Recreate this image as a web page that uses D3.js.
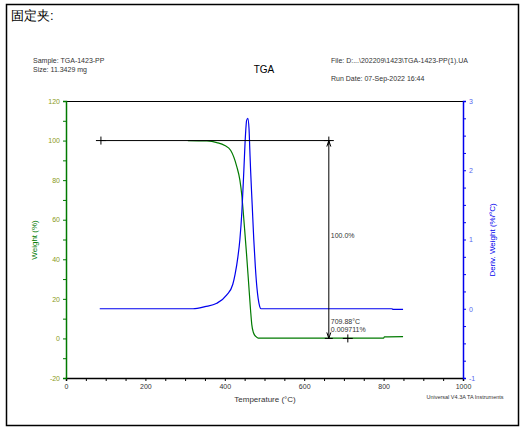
<!DOCTYPE html>
<html><head><meta charset="utf-8">
<script src="https://cdn.jsdelivr.net/npm/d3@7"></script>
<style>body{margin:0;background:#fff}text{font-family:"Liberation Sans",Arial,sans-serif}</style>
</head><body><svg id="c" width="525" height="430"></svg>
<script>
// Weight (%) vs temperature (°C)
const weightT = [307, 355, 380, 400, 415, 430, 438, 443, 446, 450, 455, 460, 465, 468, 472, 478, 484, 800, 802, 849];
const weightV = [100, 99.8, 99, 97.5, 95, 87, 80, 72, 65, 55, 42, 28, 14, 7, 3, 1, 0.2, 0.2, 0.8, 0.9];
// Deriv. weight (%/°C)
const derivT = [85, 320, 350, 380, 405, 420, 426, 433, 438, 443, 448, 452, 455, 458, 461, 463, 465, 469, 473, 477, 481, 484, 488, 491, 820, 825, 849];
const derivV = [0, 0, 0.03, 0.08, 0.2, 0.35, 0.5, 0.75, 1.0, 1.4, 2.0, 2.5, 2.72, 2.75, 2.6, 2.3, 2.0, 1.5, 1.0, 0.6, 0.3, 0.15, 0.03, 0, 0, -0.01, -0.01];
const xTicks = [0, 200, 400, 600, 800, 1000];
const yTicks = [-20, 0, 20, 40, 60, 80, 100, 120];
const y2Ticks = [-1, 0, 1, 2, 3];

const svg = d3.select('#c');
const x = d3.scaleLinear().domain([0, 1000]).range([66, 463]);
const y = d3.scaleLinear().domain([-20, 120]).range([378, 101]);
const y2 = d3.scaleLinear().domain([-1, 3]).range([378, 101]);
const green = '#007a00', blue = '#0000ee';

svg.append('rect').attr('x', 6.5).attr('y', 4.5).attr('width', 512).attr('height', 421)
  .attr('fill', 'none').attr('stroke', '#000').attr('stroke-width', 1.5);
svg.append('text').attr('x', 11).attr('y', 20).attr('font-size', 13)
  .attr('font-family', 'Noto Sans CJK SC').text('固定夹:');

const small = (t, xx, yy, anchor) => svg.append('text').attr('x', xx).attr('y', yy)
  .attr('font-size', 7).attr('fill', '#333').attr('text-anchor', anchor || 'start').text(t);
small('Sample: TGA-1423-PP', 33, 63);
small('Size:  11.3429 mg', 33, 72);
small('File: D:...\\202209\\1423\\TGA-1423-PP(1).UA', 331, 63);
small('Run Date: 07-Sep-2022 16:44', 331, 81);
svg.append('text').attr('x', 264).attr('y', 73).attr('font-size', 10).attr('text-anchor', 'middle').text('TGA');

// frame top
svg.append('line').attr('x1', 66).attr('x2', 463).attr('y1', 101.5).attr('y2', 101.5).attr('stroke', '#000');

const gx = svg.append('g').attr('transform', 'translate(0,378)')
  .call(d3.axisBottom(x).tickValues(d3.range(0, 1001, 50)).tickSize(3).tickFormat(d => xTicks.includes(d) ? d : ''));
gx.selectAll('text').attr('font-size', 7).attr('fill', '#333');

const gy = svg.append('g').attr('transform', 'translate(66,0)')
  .call(d3.axisLeft(y).tickValues(d3.range(-20, 121, 10)).tickSize(3).tickFormat(d => yTicks.includes(d) ? d.toFixed(1).replace('.0', '') : ''));
gy.selectAll('path,line').attr('stroke', green);
gy.selectAll('text').attr('font-size', 7).attr('fill', '#8a9a20');

const gy2 = svg.append('g').attr('transform', 'translate(463,0)')
  .call(d3.axisRight(y2).tickValues(d3.range(-1, 3.01, 0.25)).tickSize(3).tickFormat(d => y2Ticks.includes(d) ? d : ''));
gy2.selectAll('path,line').attr('stroke', blue);
gy2.selectAll('text').attr('font-size', 7).attr('fill', '#5566ee');
svg.selectAll('.domain').attr('stroke-width', 1.5);

svg.append('text').attr('transform', 'translate(37,240) rotate(-90)').attr('text-anchor', 'middle')
  .attr('font-size', 8).attr('fill', green).text('Weight (%)');
svg.append('text').attr('transform', 'translate(495,240) rotate(-90)').attr('text-anchor', 'middle')
  .attr('font-size', 8).attr('fill', blue).text('Deriv. Weight (%/°C)');
svg.append('text').attr('x', 265).attr('y', 402).attr('text-anchor', 'middle').attr('font-size', 8).attr('fill', '#333').text('Temperature (°C)');
svg.append('text').attr('x', 465).attr('y', 399).attr('text-anchor', 'middle').attr('font-size', 5.5).attr('fill', '#333').text('Universal V4.3A TA Instruments');

const line = (xs, ys, ysc) => d3.line().curve(d3.curveMonotoneX)(xs.map((t, i) => [x(t), ysc(ys[i])]));
svg.append('path').attr('d', line(weightT, weightV, y)).attr('fill', 'none').attr('stroke', green).attr('stroke-width', 1.2);
svg.append('path').attr('d', line(derivT, derivV, y2)).attr('fill', 'none').attr('stroke', blue).attr('stroke-width', 1.2);

// step annotation
const ax = 662;
svg.append('line').attr('x1', x(86)).attr('x2', x(668)).attr('y1', y(100)).attr('y2', y(100)).attr('stroke', '#000');
svg.append('line').attr('x1', x(ax)).attr('x2', x(ax)).attr('y1', y(100)).attr('y2', y(0)).attr('stroke', '#000');
svg.append('path').attr('d', `M${x(ax)-2},${y(100)+6}L${x(ax)},${y(100)}L${x(ax)+2},${y(100)+6}`).attr('fill', 'none').attr('stroke', '#000');
svg.append('path').attr('d', `M${x(ax)-2},${y(0)-6}L${x(ax)},${y(0)}L${x(ax)+2},${y(0)-6}`).attr('fill', 'none').attr('stroke', '#000');
svg.append('line').attr('x1', x(ax)-4).attr('x2', x(ax)+4).attr('y1', y(0)).attr('y2', y(0)).attr('stroke', '#000');
const cross = (t, w) => {
  svg.append('line').attr('x1', x(t)-5).attr('x2', x(t)+5).attr('y1', y(w)).attr('y2', y(w)).attr('stroke', '#000');
  svg.append('line').attr('x1', x(t)).attr('x2', x(t)).attr('y1', y(w)-4).attr('y2', y(w)+4).attr('stroke', '#000');
};
cross(88, 100); cross(ax, 100); cross(709.88, 0);
const ann = (t, yy) => svg.append('text').attr('x', x(ax)+2).attr('y', yy).attr('font-size', 7).attr('fill', '#333').text(t);
ann('100.0%', 238);
ann('709.88°C', 324);
ann('0.009711%', 332);
</script></body></html>
